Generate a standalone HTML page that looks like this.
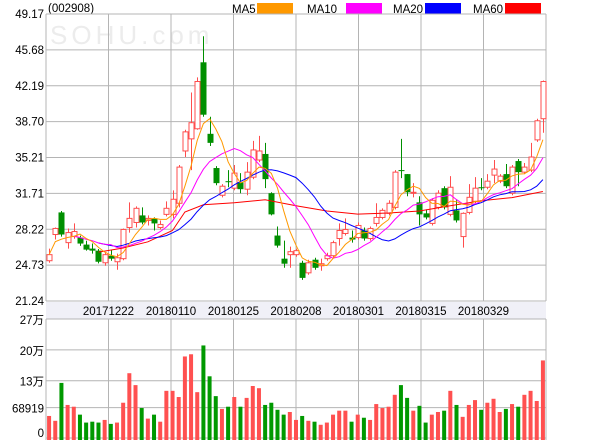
<!DOCTYPE html>
<html><head><meta charset="utf-8"><style>
body{margin:0;background:#fff;}
svg text{font-family:"Liberation Sans","Noto Sans CJK SC",sans-serif;font-size:11.5px;fill:#000;}
</style></head><body>
<svg id="chart" width="600" height="440" viewBox="0 0 600 440" xmlns="http://www.w3.org/2000/svg">
<text x="50" y="44" style="font-family:'Liberation Sans',sans-serif;font-size:26px;fill:#ececec;letter-spacing:4px">SOHU.com</text>
<text x="48" y="12">(002908)</text>
<g>
<text x="232" y="13">MA5</text>
<rect x="257" y="3" width="36" height="11" fill="#ff9900"/>
<text x="307" y="13">MA10</text>
<rect x="346" y="3" width="36" height="11" fill="#ff00ff"/>
<text x="393" y="13">MA20</text>
<rect x="425" y="3" width="36" height="11" fill="#0000ff"/>
<text x="473" y="13">MA60</text>
<rect x="505" y="3" width="36" height="11" fill="#ff0000"/>
</g>
<rect x="46" y="302" width="500" height="17" fill="#f0f0f7"/>
<g id="grid"></g><g id="marks"></g><g id="labels"></g>
</svg>
<script>
const priceTicks=["49.17","45.68","42.19","38.70","35.21","31.71","28.22","24.73","21.24"];
const volTicks=["27万","20万","13万","68919","0"];
const volTickVals=[27,20,13,6.8919,0];
const dateLabels=["20171222","20180110","20180125","20180208","20180301","20180315","20180329"];
const opens=[25.16,27.71,29.86,26.92,27.51,27.41,26.73,26.34,26.14,24.96,25.65,25.06,25.36,28.39,28.88,29.57,29.08,29.28,28.39,29.67,29.67,30.75,35.84,37.02,38.0,44.47,37.51,34.18,31.53,32.9,32.22,32.8,32.12,33.29,34.96,35.55,31.73,27.61,25.36,25.75,25.75,24.96,23.98,25.26,24.67,25.36,25.65,27.32,27.81,27.41,27.41,28.1,27.32,28.79,29.37,29.77,30.35,33.98,33.59,31.73,30.84,29.77,28.79,30.35,32.22,29.67,30.06,27.51,29.86,30.94,32.31,32.31,33.49,32.9,33.59,31.73,34.86,33.78,33.98,36.92,38.98];
const highs=[26.34,28.39,30.0,28.30,28.79,27.6,27.1,26.83,26.3,25.94,26.24,25.85,28.3,30.84,30.45,30.35,29.57,29.38,29.08,30.94,32.0,34.47,37.9,41.53,43.0,47.01,39.17,34.37,32.61,33.98,34.47,33.69,34.76,36.82,37.31,36.63,31.82,28.49,27.12,26.53,26.34,25.16,25.26,25.45,25.36,25.94,27.12,28.79,29.28,28.1,28.88,28.39,28.49,30.75,30.26,31.04,33.98,37.02,33.6,32.71,31.43,30.16,31.24,32.02,32.41,33.39,31.04,29.86,32.61,33.29,33.2,33.59,34.96,33.59,34.57,34.47,35.06,34.67,36.63,38.98,42.7];
const lows=[24.96,27.22,27.5,26.34,27.3,26.6,26.14,25.85,24.9,24.67,25.16,24.28,25.2,27.9,28.39,28.7,28.59,28.1,28.2,29.47,29.28,30.35,35.25,33.98,37.9,39.17,36.33,32.51,31.33,32.31,32.02,31.73,31.53,33.1,34.76,32.22,29.57,26.43,24.47,24.47,25.55,23.3,23.79,24.28,24.18,25.16,25.45,26.63,27.61,26.92,27.22,27.12,27.12,28.49,29.18,29.57,30.16,33.2,31.43,31.33,28.59,29.18,28.59,30.16,30.16,29.47,28.88,26.43,29.67,30.75,32.02,32.12,32.71,32.71,32.22,31.53,32.41,33.59,33.78,36.72,37.61];
const closes=[25.75,28.30,27.71,27.90,28.0,26.83,26.24,26.14,25.06,25.75,25.36,25.45,28.2,29.28,30.26,28.88,29.28,28.79,28.69,30.26,31.14,34.27,37.7,38.59,42.6,39.37,36.63,32.71,32.41,32.8,33.69,32.12,33.78,35.94,35.84,33.1,29.67,26.63,24.87,26.04,26.14,23.49,24.96,24.47,24.87,25.65,26.92,28.1,28.2,27.22,28.59,27.32,28.3,29.37,30.06,30.75,33.78,33.88,31.82,31.82,29.67,29.37,31.04,31.73,30.35,32.31,29.08,29.77,31.33,32.22,32.22,32.9,34.08,33.39,32.41,34.27,33.78,34.27,35.25,38.78,42.6];
const volumes=[5.0,3.9,12.5,7.5,7.1,5.3,3.5,3.7,3.5,4.1,3.2,3.5,8.0,14.7,12.0,6.8,4.4,5.3,3.7,10.7,10.7,9.3,18.5,19.0,10.4,21.0,14.0,9.5,6.6,7.1,9.3,7.1,9.1,11.8,11.3,7.5,8.0,6.4,5.3,5.9,4.1,5.0,3.9,3.7,3.0,3.5,5.3,6.2,6.2,3.7,5.3,4.6,4.1,7.7,6.8,7.1,9.8,12.0,9.1,6.2,7.3,3.5,5.3,5.9,6.2,10.7,7.5,4.8,7.5,8.6,6.4,8.0,8.9,5.9,6.6,7.7,7.1,9.8,10.7,8.4,17.6];
const ma60Idx=[8,12,16,20,22,25,30,35,40,45,50,55,60,65,70,75,80];
const ma60Vals=[26.0,26.4,27.0,28.1,29.9,30.6,30.8,31.1,30.5,30.0,29.7,29.8,30.0,30.5,31.0,31.3,31.9];

const NS="http://www.w3.org/2000/svg";
const L=46,R=546,PT=14,PB=301,VT=319,VB=438,PMAX=49.17,PMIN=21.24,VMAX=27;
const n=closes.length, step=(R-L)/n;
const xAt=i=>L+step*(i+0.5);
const yP=p=>PB-(p-PMIN)/(PMAX-PMIN)*(PB-PT);
const yV=v=>VB-v/VMAX*(VB-VT);
const grid=document.getElementById('grid'),marks=document.getElementById('marks'),labels=document.getElementById('labels');
function mk(tag,attrs,parent){const e=document.createElementNS(NS,tag);for(const k in attrs)e.setAttribute(k,attrs[k]);parent.appendChild(e);return e;}
priceTicks.forEach((t,i)=>{const y=PT+i*(PB-PT)/(priceTicks.length-1);
 const ln=mk('line',{x1:L,x2:R,y1:y,y2:y,stroke:'#b4b4b4','stroke-width':1},grid);
 
 
 const tx=mk('text',{x:44,y:y+4,'text-anchor':'end'},labels);tx.textContent=t;
 
 });
volTickVals.forEach((v,i)=>{const y=yV(v);
 const ln=mk('line',{x1:L,x2:R,y1:y,y2:y,stroke:'#b4b4b4','stroke-width':1},grid);
 
 
 const tx=mk('text',{x:44,y:Math.min(y+5,437),'text-anchor':'end'},labels);tx.textContent=volTicks[i];
 
 });
for(let k=0;k<=8;k++){const x=L+k*(R-L)/8;
 [[PT,PB],[VT,VB+2]].forEach(([a,b])=>{const ln=mk('line',{x1:x,x2:x,y1:a,y2:b,stroke:'#b4b4b4','stroke-width':1},grid);
 
 });
 if(k>=1&&k<=7){const tx=mk('text',{x:x,y:315,'text-anchor':'middle'},labels);tx.textContent=dateLabels[k-1];
 
 }}
volumes.forEach((v,i)=>{const up=closes[i]>=opens[i];
 const r=mk('rect',{x:xAt(i)-2,y:yV(v),width:4,height:VB+2-yV(v),fill:up?'#ff5050':'#009900'},marks);
 
 });
for(let i=0;i<n;i++){const up=closes[i]>=opens[i];const c=up?'#ff4d4d':'#008f00';const x=Math.round(xAt(i))+0.5;
 const w=mk('line',{x1:x,x2:x,y1:yP(highs[i]),y2:yP(lows[i]),stroke:c,'stroke-width':1},marks);
 
 
 const top=yP(Math.max(opens[i],closes[i])),bot=yP(Math.min(opens[i],closes[i]));
 const b=mk('rect',up?{x:x-2.5,y:top,width:5,height:Math.max(1,bot-top),fill:'#fff',stroke:c,'stroke-width':1}:{x:x-3,y:top,width:6,height:Math.max(1,bot-top),fill:c},marks);
 
 }
function ma(p){return closes.map((_,i)=>{const s=Math.max(0,i-p+1);let t=0;for(let j=s;j<=i;j++)t+=closes[j];return t/(i-s+1);});}
function line(pts,color,name){const p=mk('polyline',{points:pts.map(q=>q[0].toFixed(1)+','+q[1].toFixed(1)).join(' '),fill:'none',stroke:color,'stroke-width':1},marks);
 
 }
line(ma60Idx.map((k,j)=>[xAt(k),yP(ma60Vals[j])]),'#ff0000','ma60-line');
line(ma(20).map((v,i)=>[xAt(i),yP(v)]).slice(8),'#0000ff','ma20-line');
line(ma(10).map((v,i)=>[xAt(i),yP(v)]).slice(4),'#ff00ff','ma10-line');
line(ma(5).map((v,i)=>[xAt(i),yP(v)]),'#ff9900','ma5-line');
</script>
</body></html>
